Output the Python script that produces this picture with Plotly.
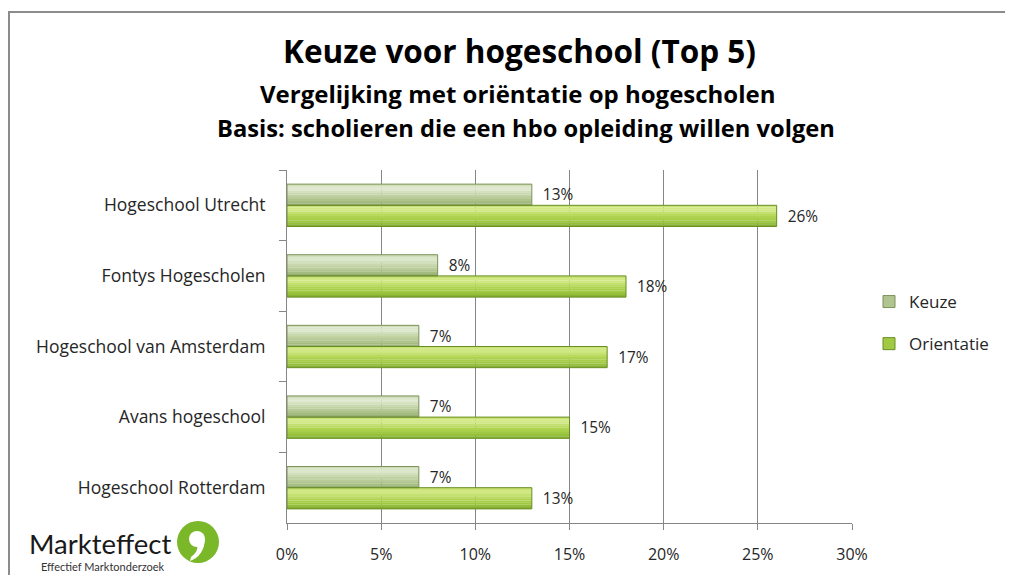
import plotly.graph_objects as go

categories = ["Hogeschool Utrecht", "Fontys Hogescholen", "Hogeschool van Amsterdam",
              "Avans hogeschool", "Hogeschool Rotterdam"]
keuze = [13, 8, 7, 7, 7]
orientatie = [26, 18, 17, 15, 13]
x_ticks = [0, 5, 10, 15, 20, 25, 30]
x_tick_labels = ["0%", "5%", "10%", "15%", "20%", "25%", "30%"]

# page body has an 8px margin; figure sized to fit the window
OX, OY = 8, 8
W, H = 997, 567
L, R, T, B = 287, 852, 170, 523  # plot area in window pixels


def px(x):
    return (x - L) / (R - L)


def py(y):
    return (B - y) / (B - T)


def hex2rgb(h):
    h = h.lstrip("#")
    return [int(h[i:i + 2], 16) for i in (0, 2, 4)]


def grad(stops, t):
    for (t0, c0), (t1, c1) in zip(stops[:-1], stops[1:]):
        if t0 <= t <= t1:
            f = (t - t0) / (t1 - t0) if t1 > t0 else 0
            a, b = hex2rgb(c0), hex2rgb(c1)
            return "rgb({},{},{})".format(*[round(a[k] + (b[k] - a[k]) * f) for k in range(3)])
    return stops[-1][1]


FONT = "Open Sans"
TXT = "#262626"
BW = 0.3  # bar thickness (category units)
NS = 10   # gradient strips per bar

series = [
    ("Keuze", keuze, -BW, "#7c9258",
     [(0.0, "#c9d8b0"), (0.2, "#e2ebd3"), (0.5, "#c4d4a8"), (0.8, "#aac087"), (1.0, "#93ab6d")],
     "#b0c48f"),
    ("Orientatie", orientatie, 0.0, "#688f22",
     [(0.0, "#c2de6a"), (0.2, "#d6eb8c"), (0.5, "#b3d655"), (0.8, "#9cc63f"), (1.0, "#80a830")],
     "#a2c944"),
]

fig = go.Figure()
for name, vals, off, edge, stops, legcol in series:
    for i in range(NS):
        t = (i + 0.5) / NS
        fig.add_trace(go.Bar(
            y=categories, x=vals, orientation="h",
            width=BW / NS + 0.002, offset=off + BW * i / NS,
            marker=dict(color=grad(stops, t), line=dict(width=0)),
            showlegend=False, hoverinfo="skip", legendgroup=name,
        ))
for name, vals, off, edge, stops, legcol in series:
    fig.add_trace(go.Bar(
        y=categories, x=vals, name=name, orientation="h",
        width=BW, offset=off,
        marker=dict(color="rgba(0,0,0,0)", line=dict(color=edge, width=1)),
        text=vals, texttemplate="  %{text}%", textposition="outside",
        textfont=dict(size=16, color=TXT, family=FONT), cliponaxis=False,
        showlegend=False, legendgroup=name,
    ))
# legend entries
for name, vals, off, edge, stops, legcol in series:
    fig.add_trace(go.Bar(
        y=[None], x=[None], name=name, orientation="h",
        marker=dict(color=legcol, line=dict(color=edge, width=1)),
        legendgroup=name + "_leg",
    ))

fig.update_layout(
    width=W, height=H,
    margin=dict(l=L - OX, r=OX + W - R, t=T - OY, b=OY + H - B, pad=0, autoexpand=False),
    paper_bgcolor="white", plot_bgcolor="white",
    barmode="overlay",
    font=dict(family=FONT, color=TXT, size=16),
    showlegend=True,
    legend=dict(x=px(869), y=py(284), xanchor="left", yanchor="top",
                font=dict(size=17, color=TXT, family=FONT),
                tracegroupgap=17, bgcolor="rgba(0,0,0,0)"),
    xaxis=dict(range=[0, 30], tickvals=x_ticks, ticktext=x_tick_labels,
               showgrid=True, gridcolor="#868686", gridwidth=1,
               showline=True, linecolor="#868686", linewidth=1,
               ticks="outside", ticklen=6, tickcolor="#868686",
               tickfont=dict(size=16, color=TXT, family=FONT),
               ticklabelstandoff=11,
               zeroline=False, fixedrange=True),
    yaxis=dict(autorange="reversed", showline=True, linecolor="#868686", linewidth=1,
               ticks="outside", ticklen=7, tickcolor="#868686", tickson="boundaries",
               tickfont=dict(size=17.5, color=TXT, family=FONT),
               ticklabelstandoff=17, showgrid=False, fixedrange=True),
)

# frame
fig.add_shape(type="rect", xref="paper", yref="paper",
              x0=px(9), x1=px(1040), y0=py(12), y1=py(620),
              line=dict(color="#8c8c8c", width=2), fillcolor="rgba(0,0,0,0)", layer="below")

# titles
fig.add_annotation(text="<b>Keuze voor hogeschool (Top 5)</b>", xref="paper", yref="paper",
                   x=px(519), y=py(50), showarrow=False, xanchor="center", yanchor="middle",
                   font=dict(size=31.5, color="black", family=FONT))
fig.add_annotation(text="<b>Vergelijking met oriëntatie op hogescholen</b>", xref="paper", yref="paper",
                   x=px(518), y=py(93), showarrow=False, xanchor="center", yanchor="middle",
                   font=dict(size=24, color="black", family=FONT))
fig.add_annotation(text="<b>Basis: scholieren die een hbo opleiding willen volgen</b>", xref="paper", yref="paper",
                   x=px(526), y=py(128), showarrow=False, xanchor="center", yanchor="middle",
                   font=dict(size=23.7, color="black", family=FONT))

# logo
fig.add_annotation(text="Markteffect", xref="paper", yref="paper",
                   x=px(27), y=py(543), showarrow=False, xanchor="left", yanchor="middle",
                   font=dict(size=27.5, color="#1a1a1a", family="Lato"))
fig.add_annotation(text="Effectief Marktonderzoek", xref="paper", yref="paper",
                   x=px(39), y=py(566), showarrow=False, xanchor="left", yanchor="middle",
                   font=dict(size=11, color="#333333", family="Lato"))
cx, cy, r = 198, 542, 21
fig.add_shape(type="circle", xref="paper", yref="paper",
              x0=px(cx - r), x1=px(cx + r), y0=py(cy + r), y1=py(cy - r),
              fillcolor="#7ab829", line=dict(width=0))
fig.add_shape(type="circle", xref="paper", yref="paper",
              x0=px(cx - 9), x1=px(cx + 7), y0=py(cy + 5), y1=py(cy - 11),
              fillcolor="white", line=dict(width=0))
path = "M {} {} Q {} {} {} {} L {} {} Q {} {} {} {} Z".format(
    px(cx + 7), py(cy - 3), px(cx + 6), py(cy + 14), px(cx - 8), py(cy + 19),
    px(cx - 7), py(cy + 15), px(cx + 1), py(cy + 9), px(cx - 1), py(cy + 3))
fig.add_shape(type="path", xref="paper", yref="paper", path=path,
              fillcolor="white", line=dict(width=0))

fig.write_html("out.html")
